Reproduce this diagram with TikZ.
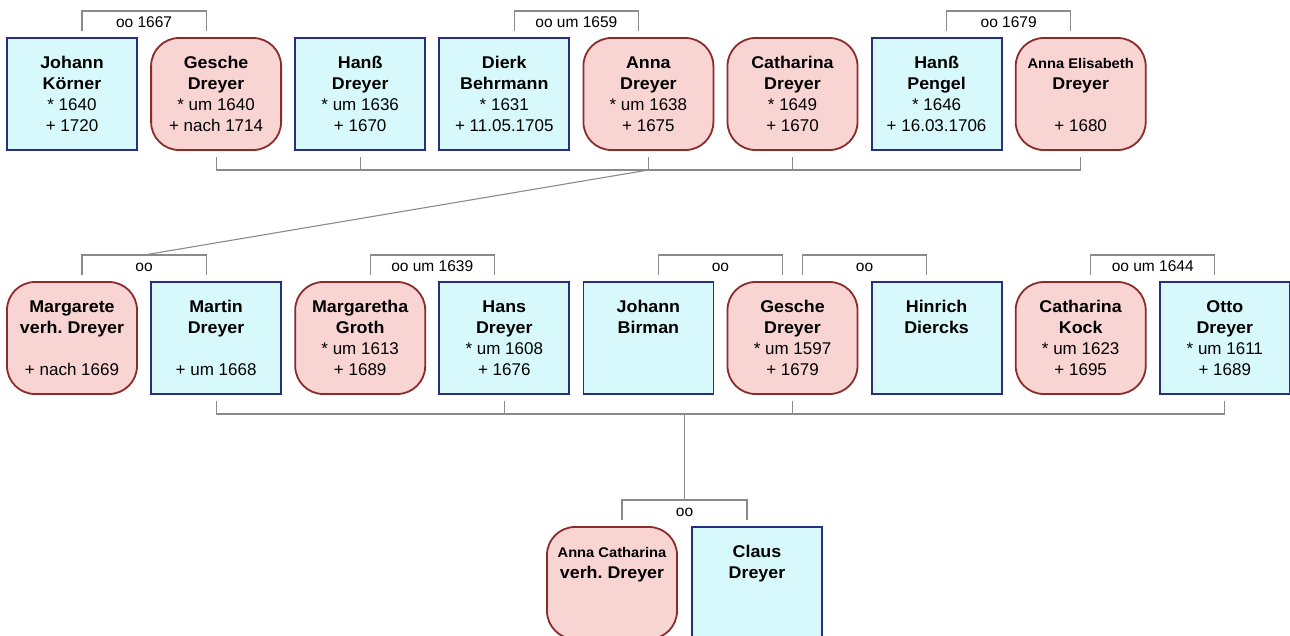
\documentclass[tikz,border=0pt]{standalone}
\usepackage{fontspec}
\setmainfont{Liberation Sans}[BoldFeatures={FakeStretch=1.05}]
\usetikzlibrary{calc}
\definecolor{mfill}{HTML}{D8F9FC}
\definecolor{mline}{HTML}{26307E}
\definecolor{ffill}{HTML}{F8D4D2}
\definecolor{fline}{HTML}{8C2B2B}
\definecolor{linegray}{HTML}{8A8A8A}
\newcommand{\firstline}{\rule{0pt}{13pt}}
\newcommand{\smallname}[1]{{\fontsize{14}{21.2}\selectfont\textbf{#1}}}
\frenchspacing
\begin{document}
\begin{tikzpicture}[x=1pt,y=-1pt,
  card/.style={line width=1.8pt, minimum width=130pt, minimum height=112pt,
    anchor=north west, inner sep=0pt, outer sep=0pt},
  male/.style={card, draw=mline, fill=mfill},
  female/.style={card, draw=fline, fill=ffill, rounded corners=28pt},
  cardtext/.style={anchor=north, align=center, inner sep=0pt,
    font=\fontsize{17}{21.2}\selectfont},
  link/.style={draw=linegray, line width=1.1pt},
  wedlab/.style={anchor=base, inner sep=0pt, font=\fontsize{15.5}{17}\selectfont}
]
\useasboundingbox (0,0) rectangle (1290,635);
\clip (0,0) rectangle (1290,635);

% ---------- cards: first generation (top row) ----------
\node[male]   (koerner)  at (7,38)      {};
\node[female] (gesche1)  at (151.1,38)  {};
\node[male]   (hanss)    at (295.2,38)  {};
\node[male]   (dierk)    at (439.3,38)  {};
\node[female] (anna)     at (583.4,38)  {};
\node[female] (cath1)    at (727.5,38)  {};
\node[male]   (pengel)   at (871.6,38)  {};
\node[female] (annael)   at (1015.7,38) {};

% ---------- cards: second generation (middle row) ----------
\node[female] (margarete) at (7,282)      {};
\node[male]   (martin)    at (151.1,282)  {};
\node[female] (margaretha)at (295.2,282)  {};
\node[male]   (hans)      at (439.3,282)  {};
\node[male]   (birman)    at (583.4,282)  {};
\node[female] (gesche2)   at (727.5,282)  {};
\node[male]   (hinrich)   at (871.6,282)  {};
\node[female] (kock)      at (1015.7,282) {};
\node[male]   (otto)      at (1159.8,282) {};

% ---------- cards: third generation (bottom row) ----------
\node[female] (annacath) at (547,527) {};
\node[male]   (claus)    at (692,527) {};

% ---------- card texts ----------
\node[cardtext] at ([yshift=-17pt]koerner.north) {\firstline\textbf{Johann}\\\textbf{Körner}\\{}* 1640\\+ 1720};
\node[cardtext] at ([yshift=-17pt]gesche1.north) {\firstline\textbf{Gesche}\\\textbf{Dreyer}\\{}* um 1640\\+ nach 1714};
\node[cardtext] at ([yshift=-17pt]hanss.north)   {\firstline\textbf{Hanß}\\\textbf{Dreyer}\\{}* um 1636\\+ 1670};
\node[cardtext] at ([yshift=-17pt]dierk.north)   {\firstline\textbf{Dierk}\\\textbf{Behrmann}\\{}* 1631\\+ 11.05.1705};
\node[cardtext] at ([yshift=-17pt]anna.north)    {\firstline\textbf{Anna}\\\textbf{Dreyer}\\{}* um 1638\\+ 1675};
\node[cardtext] at ([yshift=-17pt]cath1.north)   {\firstline\textbf{Catharina}\\\textbf{Dreyer}\\{}* 1649\\+ 1670};
\node[cardtext] at ([yshift=-17pt]pengel.north)  {\firstline\textbf{Hanß}\\\textbf{Pengel}\\{}* 1646\\+ 16.03.1706};
\node[cardtext] at ([yshift=-17pt]annael.north)  {\firstline\smallname{Anna Elisabeth}\\\textbf{Dreyer}\\\mbox{}\\+ 1680};

\node[cardtext] at ([yshift=-17pt]margarete.north)  {\firstline\textbf{Margarete}\\\textbf{verh. Dreyer}\\\mbox{}\\+ nach 1669};
\node[cardtext] at ([yshift=-17pt]martin.north)     {\firstline\textbf{Martin}\\\textbf{Dreyer}\\\mbox{}\\+ um 1668};
\node[cardtext] at ([yshift=-17pt]margaretha.north) {\firstline\textbf{Margaretha}\\\textbf{Groth}\\{}* um 1613\\+ 1689};
\node[cardtext] at ([yshift=-17pt]hans.north)       {\firstline\textbf{Hans}\\\textbf{Dreyer}\\{}* um 1608\\+ 1676};
\node[cardtext] at ([yshift=-17pt]birman.north)     {\firstline\textbf{Johann}\\\textbf{Birman}};
\node[cardtext] at ([yshift=-17pt]gesche2.north)    {\firstline\textbf{Gesche}\\\textbf{Dreyer}\\{}* um 1597\\+ 1679};
\node[cardtext] at ([yshift=-17pt]hinrich.north)    {\firstline\textbf{Hinrich}\\\textbf{Diercks}};
\node[cardtext] at ([yshift=-17pt]kock.north)       {\firstline\textbf{Catharina}\\\textbf{Kock}\\{}* um 1623\\+ 1695};
\node[cardtext] at ([yshift=-17pt]otto.north)       {\firstline\textbf{Otto}\\\textbf{Dreyer}\\{}* um 1611\\+ 1689};

\node[cardtext] at ([yshift=-17pt]annacath.north) {\firstline\smallname{Anna Catharina}\\\textbf{verh. Dreyer}};
\node[cardtext] at ([yshift=-17pt]claus.north)    {\firstline\textbf{Claus}\\\textbf{Dreyer}};

% ---------- marriage brackets ----------
% #1,#2: partner cards, #3: name of the bracket's midpoint, #4: label
\newcommand{\wedlock}[4]{%
  \draw[link] ([xshift=10pt,yshift=7.5pt]#1.north) -- ++(0pt,19.5pt)
     -| ([xshift=-10pt,yshift=7.5pt]#2.north);
  \coordinate (#3) at ($(#1.north)!0.5!(#2.north)+(0pt,27pt)$);
  \node[wedlab] at ($(#3)+(0pt,-16pt)$) {#4};}

\wedlock{koerner}{gesche1}{w1}{oo 1667}
\wedlock{dierk}{anna}{w2}{oo um 1659}
\wedlock{pengel}{annael}{w3}{oo 1679}
\wedlock{margarete}{martin}{w4}{oo}
\wedlock{margaretha}{hans}{w5}{oo um 1639}
\wedlock{birman}{gesche2}{w6}{oo}
\wedlock{gesche2}{hinrich}{w7}{oo}
\wedlock{kock}{otto}{w8}{oo um 1644}
\wedlock{annacath}{claus}{w9}{oo}

% ---------- sibling lines ----------
\coordinate (sib1) at ($(gesche1.south)+(0pt,-20pt)$);
\draw[link] (sib1) -- (annael.south |- sib1);
\foreach \k in {gesche1,hanss,anna,cath1,annael}
  \draw[link] ([yshift=-7pt]\k.south) -- (\k.south |- sib1);
\draw[link] (anna.south |- sib1) -- (w4);

\coordinate (sib2) at ($(martin.south)+(0pt,-20pt)$);
\draw[link] (sib2) -- (otto.south |- sib2);
\foreach \k in {martin,hans,gesche2,otto}
  \draw[link] ([yshift=-7pt]\k.south) -- (\k.south |- sib2);
\draw[link] (w9 |- sib2) -- (w9);
\end{tikzpicture}
\end{document}
